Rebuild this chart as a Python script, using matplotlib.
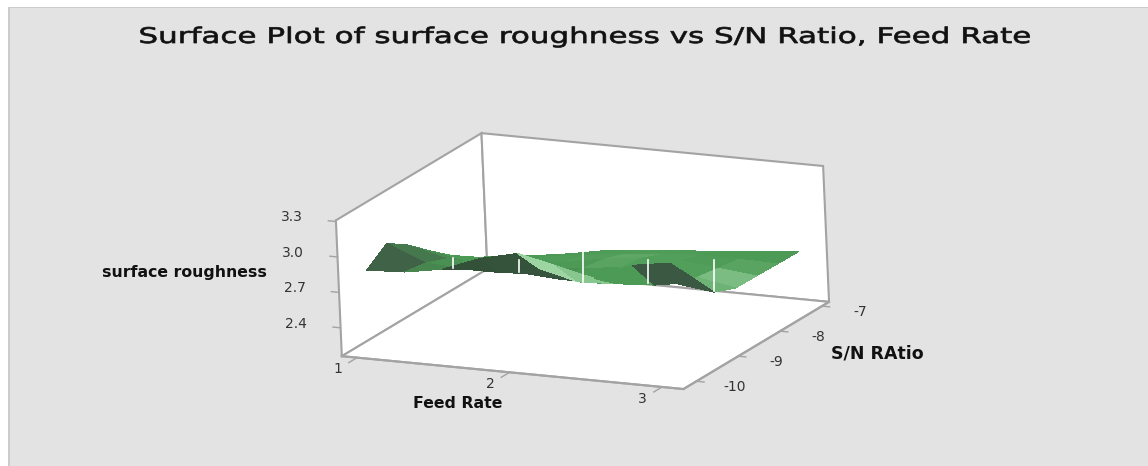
import numpy as np
import matplotlib
matplotlib.use("Agg")
import matplotlib.pyplot as plt
from matplotlib.colors import LinearSegmentedColormap
from matplotlib.lines import Line2D
from matplotlib.patches import Rectangle
from matplotlib.patheffects import AbstractPathEffect
from matplotlib.transforms import Affine2D
from mpl_toolkits.mplot3d import proj3d

feed_rate = [1, 1.25, 1.5, 1.75, 2, 2.25, 2.5, 2.75, 3]
sn_ratio = [-10, -9.5, -9, -8.5, -8, -7.5, -7]
# one row per S/N value
roughness = [
    [2.835, 2.85, 2.905, 3.027, 3.10, 3.027, 2.95, 3.093, 3.143],
    [2.956, 2.82, 2.80, 2.80, 2.864, 2.785, 2.80, 2.82, 2.914],
    [2.835, 2.75, 2.70, 2.69, 2.668, 2.668, 2.76, 2.727, 2.685],
    [2.68, 2.61, 2.618, 2.623, 2.656, 2.693, 2.718, 2.673, 2.614],
    [2.535, 2.543, 2.556, 2.577, 2.627, 2.668, 2.677, 2.643, 2.61],
    [2.414, 2.452, 2.485, 2.522, 2.564, 2.593, 2.618, 2.614, 2.606],
    [2.30, 2.352, 2.40, 2.46, 2.493, 2.518, 2.543, 2.577, 2.602],
]
# lightness of each mesh cell, 0 dark to 1 pale
cell_tone = [
    [0.28, 0.45, 0.10, 0.12, 0.95, 0.85, 0.55, 0.20],
    [0.38, 0.50, 0.50, 0.15, 0.18, 0.55, 0.50, 0.20],
    [0.48, 0.55, 0.55, 0.50, 0.55, 0.58, 0.58, 0.72],
    [0.55, 0.55, 0.55, 0.55, 0.62, 0.58, 0.58, 0.78],
    [0.55, 0.55, 0.56, 0.58, 0.64, 0.58, 0.56, 0.62],
    [0.55, 0.55, 0.55, 0.56, 0.57, 0.56, 0.55, 0.55],
]
x_ticks = [1, 2, 3]
y_ticks = [-10, -9, -8, -7]
z_ticks = [2.4, 2.7, 3.0, 3.3]
x_labels = ["1", "2", "3"]
y_labels = ["-10", "-9", "-8", "-7"]
z_labels = ["2.4", "2.7", "3.0", "3.3"]
x_lim = (0.90, 3.14)
y_lim = (-10.31, -6.83)
z_lim = (2.16, 3.31)
# white seams in the rendered sheet, x and y range in pixels
seam_x = [453, 519, 583, 648, 714]
seam_top = [258, 260, 250, 260, 260]
seam_bottom = [268, 272, 282, 283, 291]

bg = "#e3e3e3"
edge = "#a3a3a3"
tick_text = "#333333"


# the title in the original is wider than any installed font
class WideText(AbstractPathEffect):
    def __init__(self, sx, cx):
        super().__init__()
        self.sx, self.cx = sx, cx

    def draw_path(self, renderer, gc, tpath, affine, rgbFace=None):
        wide = affine + Affine2D().translate(-self.cx, 0).scale(self.sx, 1).translate(self.cx, 0)
        gc0 = renderer.new_gc()
        gc0.copy_properties(gc)
        gc0.set_foreground("#111111")
        gc0.set_linewidth(0.5)
        renderer.draw_path(gc0, tpath, wide, rgbFace)
        gc0.restore()


fig = plt.figure(figsize=(11.48, 4.66), dpi=100, facecolor=bg)
fig.add_artist(Rectangle((0, 0), 8 / 1148, 1, transform=fig.transFigure, color="white", lw=0))
fig.add_artist(Rectangle((8 / 1148, 0), 2 / 1148, 1, transform=fig.transFigure, color="#cccccc", lw=0))
fig.add_artist(Rectangle((0, 1 - 7 / 466), 1, 7 / 466, transform=fig.transFigure, color="white", lw=0))
fig.add_artist(Rectangle((8 / 1148, 1 - 8 / 466), 1, 1 / 466, transform=fig.transFigure, color="#cccccc", lw=0))

ax = fig.add_axes([0.0008, -0.1765, 1, 1.2], projection="3d", facecolor="none")
ax.set_proj_type("ortho")
ax.view_init(elev=16, azim=-63, roll=2.5)
ax.set_box_aspect((391, 337, 145), zoom=0.908)
ax.set_xlim(*x_lim)
ax.set_ylim(*y_lim)
ax.set_zlim(*z_lim)

X, Y = np.meshgrid(feed_rate, sn_ratio)
Z = np.array(roughness)

greens = LinearSegmentedColormap.from_list(
    "greens", [(0, "#2c4a30"), (0.25, "#3f5d47"), (0.55, "#4c9a55"), (1, "#a5dcab")])
ax.plot_surface(X, Y, Z, facecolors=greens(np.array(cell_tone)), rstride=1, cstride=1,
                shade=False, linewidth=0, antialiased=False)

# panes overlap here and hide their own edges
ax.plot([x_lim[0], x_lim[0]], [y_lim[1], y_lim[1]], z_lim, color=edge, lw=1.5, zorder=0)
ax.plot([x_lim[0], x_lim[0]], y_lim, [z_lim[0], z_lim[0]], color=edge, lw=1.5, zorder=0)

ax.set_xticks([])
ax.set_yticks([])
ax.set_zticks([])
ax.grid(False)
for axis in (ax.xaxis, ax.yaxis, ax.zaxis):
    axis.set_pane_color("white")
    axis.pane.set_edgecolor(edge)
    axis.pane.set_linewidth(1.5)
    axis.line.set_color(edge)
    axis.line.set_linewidth(1.5)
ax.zaxis.set_ticks_position("lower")


# tick labels sit off the box edges like in the original
def tick_label(x, y, z, s):
    px, py, _ = proj3d.proj_transform(x, y, z, ax.get_proj())
    ax.text2D(px, py, s, transform=ax.transData, ha="center", va="center",
              fontsize=10, color=tick_text)


# mplot3d points its own ticks the wrong way here, so draw them outward from the edges
for v, s in zip(x_ticks, x_labels):
    ax.plot([v, v], [y_lim[0], y_lim[0] - 0.2], [z_lim[0], z_lim[0]], color=edge, lw=1, clip_on=False)
    tick_label(v, y_lim[0] - 0.47, z_lim[0], s)
for v, s in zip(y_ticks, y_labels):
    ax.plot([x_lim[1], x_lim[1] + 0.05], [v, v], [z_lim[0], z_lim[0]], color=edge, lw=1, clip_on=False)
    tick_label(x_lim[1] + 0.25, v, z_lim[0] - 0.02, s)
for v, s in zip(z_ticks, z_labels):
    ax.plot([x_lim[0], x_lim[0] - 0.05], [y_lim[0], y_lim[0]], [v, v], color=edge, lw=1, clip_on=False)
    tick_label(x_lim[0] - 0.29, y_lim[0], v, s)

for sx, top, bottom in zip(seam_x, seam_top, seam_bottom):
    fig.add_artist(Line2D([sx / 1148, sx / 1148], [1 - top / 466, 1 - bottom / 466],
                          color="white", lw=1.2))

title = fig.text(585 / 1148, 1 - 37 / 466, "Surface Plot of surface roughness vs S/N Ratio, Feed Rate",
                 ha="center", va="center", fontsize=15.5, color="#111111")
title.set_path_effects([WideText(1.44, 585)])
fig.text(184 / 1148, 1 - 272 / 466, "surface roughness", ha="center", va="center",
         fontsize=11.3, fontweight="bold", color="#111111")
fig.text(458 / 1148, 1 - 403 / 466, "Feed Rate", ha="center", va="center",
         fontsize=11.3, fontweight="bold", color="#111111")
fig.text(877 / 1148, 1 - 354 / 466, "S/N RAtio", ha="center", va="center",
         fontsize=12.5, fontweight="bold", color="#111111")

fig.savefig("out.png", dpi=100, facecolor=bg)
